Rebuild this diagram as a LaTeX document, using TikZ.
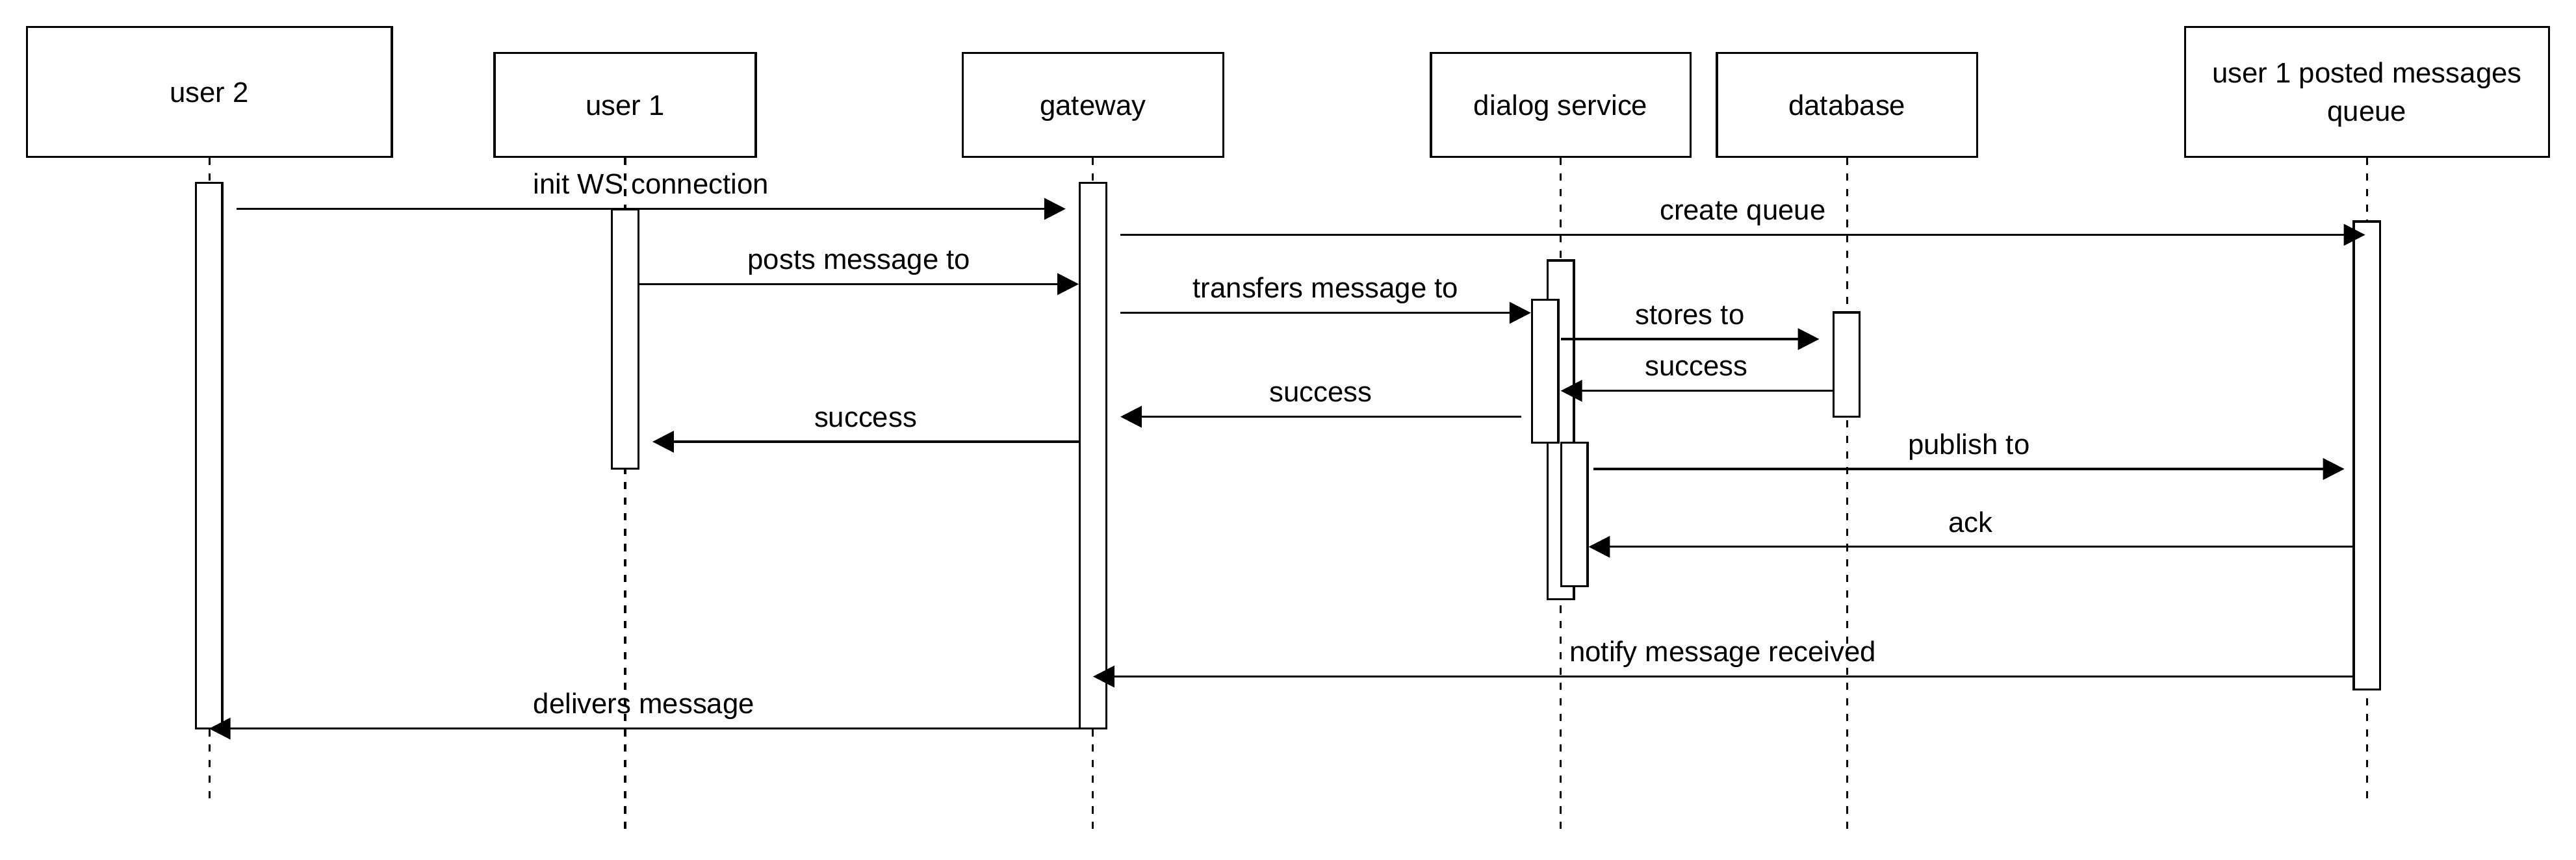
\documentclass[tikz,border=0pt]{standalone}
\usepackage{fontspec}
\setmainfont{Liberation Sans}
\usetikzlibrary{arrows.meta}
\begin{document}
\begin{tikzpicture}[x=1pt,y=-1pt,
  every node/.style={font=\fontsize{17.3}{20.8}\selectfont},
  lw/.style={line width=1.3pt},
  headbox/.style={draw, lw, fill=white, inner sep=0pt, text height=12.9pt, text depth=0.7pt},
  actbox/.style={draw, lw, fill=white, inner sep=0pt, minimum width=16pt},
  life/.style={lw, dash pattern=on 4.4pt off 5pt},
  msg/.style={lw, -{Triangle[length=13pt,width=13pt]}},
  lbl/.style={anchor=base, yshift=9pt, inner sep=0pt},
  hdtext/.style={anchor=base, inner sep=0pt}
]
\useasboundingbox (0,0) rectangle (1568,523.7);

% lifeline ends
\coordinate (u2end) at (127.45,489.3);
\coordinate (u1end) at (380.5,506.5);
\coordinate (gwend) at (665.25,506.5);
\coordinate (dsend) at (950,506.5);
\coordinate (dbend) at (1124.3,506.5);
\coordinate (qend)  at (1440.75,489.3);

% header boxes
\node[headbox, minimum width=222.1pt, minimum height=79.1pt] (u2box) at (127.45,56.05) {user 2};
\node[headbox, minimum width=159pt, minimum height=63.3pt] (u1box) at (380.5,63.95) {user 1};
\node[headbox, minimum width=158.5pt, minimum height=63.3pt] (gwbox) at (665.25,63.95) {gateway};
\node[headbox, minimum width=158pt, minimum height=63.3pt] (dsbox) at (950,63.95) {dialog service};
\node[headbox, minimum width=158.6pt, minimum height=63.3pt] (dbbox) at (1124.3,63.95) {database};
\node[headbox, minimum width=221.5pt, minimum height=79.1pt] (qbox) at (1440.75,56.05) {};
\node[hdtext] (qtxta) at (1440.75,50.5) {user 1 posted messages};
\node[hdtext] (qtxtb) at (1440.75,73.8) {queue};

% lifelines
\draw[life] (u2box.south) -- (u2end);
\draw[life] (u1box.south) -- (u1end);
\draw[life] (gwbox.south) -- (gwend);
\draw[life] (dsbox.south) -- (dsend);
\draw[life] (dbbox.south) -- (dbend);
\draw[life] (qbox.south) -- (qend);

% activations
\node[actbox, minimum height=332.3pt] (u2act) at (127.25,277.55) {};
\node[actbox, minimum height=158pt] (u1act) at (380.5,206.5) {};
\node[actbox, minimum height=332.3pt] (gwact) at (665.3,277.55) {};
\node[actbox, minimum height=206.4pt] (dsO) at (950,261.8) {};
\node[actbox, minimum height=87.1pt] (dsA) at (940.5,226.15) {};
\node[actbox, minimum height=87.2pt] (dsB) at (958.3,313.3) {};
\node[actbox, minimum height=63.5pt] (dbact) at (1124,222.05) {};
\node[actbox, minimum height=285.1pt] (qact) at (1440.65,277.45) {};

% message rows
\coordinate (r1) at (0,127.2);
\coordinate (r2) at (0,143);
\coordinate (r3) at (0,173);
\coordinate (r4) at (0,190.5);
\coordinate (r5) at (0,206.5);
\coordinate (r6) at (0,238);
\coordinate (r7) at (0,253.8);
\coordinate (r8) at (0,269);
\coordinate (r9) at (0,285.6);
\coordinate (r10) at (0,333);
\coordinate (r11) at (0,412);
\coordinate (r12) at (0,443.7);

% messages
\draw[msg] ([xshift=8pt]u2act.east |- r1) -- node[lbl, midway] (l1) {init WS connection} ([xshift=-8pt]gwact.west |- r1);
\draw[msg] ([xshift=8pt]gwact.east |- r2) -- node[lbl, midway] (l2) {create queue} ([xshift=-1pt]qact.center |- r2);
\draw[msg] (u1act.east |- r3) -- node[lbl, midway] (l3) {posts message to} (gwact.west |- r3);
\draw[msg] ([xshift=8pt]gwact.east |- r4) -- node[lbl, midway] (l4) {transfers message to} (dsA.west |- r4);
\draw[msg] (dsO.center |- r5) -- node[lbl, midway] (l5) {stores to} ([xshift=-8pt]dbact.west |- r5);
\draw[msg] (dbact.west |- r6) -- node[lbl, midway] (l6) {success} (dsO.center |- r6);
\draw[msg] ([xshift=-6pt]dsA.west |- r7) -- node[lbl, midway] (l7) {success} ([xshift=8pt]gwact.east |- r7);
\draw[msg] (gwact.west |- r8) -- node[lbl, midway] (l8) {success} ([xshift=8pt]u1act.east |- r8);
\draw[msg] ([xshift=3pt]dsB.east |- r9) -- node[lbl, midway] (l9) {publish to} ([xshift=-5pt]qact.west |- r9);
\draw[msg] (qact.west |- r10) -- node[lbl, midway] (l10) {ack} (dsB.east |- r10);
\draw[msg] (qact.west |- r11) -- node[lbl, midway] (l11) {notify message received} (gwact.center |- r11);
\draw[msg] (gwact.west |- r12) -- node[lbl, midway] (l12) {delivers message} (u2act.center |- r12);
\end{tikzpicture}
\end{document}
